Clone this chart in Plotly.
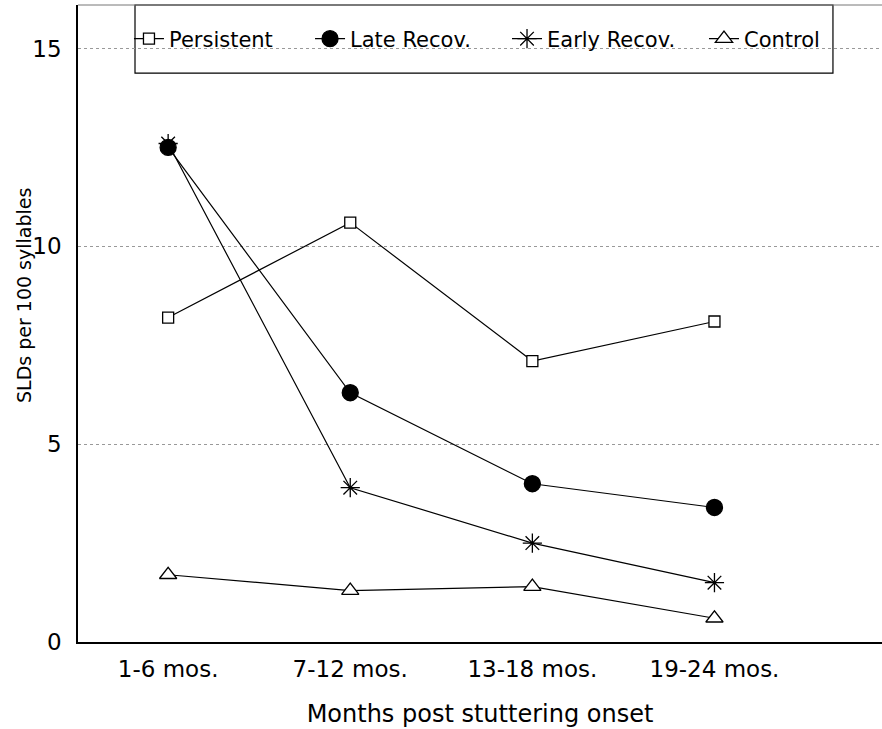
import plotly.graph_objects as go

categories = ["1-6 mos.", "7-12 mos.", "13-18 mos.", "19-24 mos."]
persistent = [8.2, 10.6, 7.1, 8.1]
late_recov = [12.5, 6.3, 4.0, 3.4]
early_recov = [12.6, 3.9, 2.5, 1.5]
control = [1.7, 1.3, 1.4, 0.6]

FONT = "DejaVu Sans, Liberation Sans, Arial, sans-serif"

fig = go.Figure()

def add(name, y, symbol, size, fill, legend):
    fig.add_trace(go.Scatter(
        x=categories, y=y, name=name, mode="lines+markers",
        line=dict(color="black", width=1.2),
        marker=dict(symbol=symbol, size=size, color=fill,
                    line=dict(color="black", width=1.3)),
        legend=legend,
    ))

add("Persistent", persistent, "square", 11, "white", "legend")
add("Late Recov.", late_recov, "circle", 16, "black", "legend2")
add("Early Recov.", early_recov, "asterisk-open", 16, "black", "legend3")
add("Control", control, "triangle-up", 15, "white", "legend4")

def leg(x):
    return dict(
        orientation="h", x=x, y=0.9466, xanchor="left", yanchor="middle",
        borderwidth=0, bgcolor="rgba(0,0,0,0)",
        font=dict(family=FONT, size=21, color="black"),
        itemwidth=30,
    )

fig.update_layout(
    width=882, height=729,
    margin=dict(l=78, r=0, t=5, b=87),
    paper_bgcolor="white", plot_bgcolor="white",
    font=dict(family=FONT, size=23, color="black"),
    showlegend=True,
    legend=leg(0.0634),
    legend2=leg(0.2886),
    legend3=leg(0.5336),
    legend4=leg(0.7786),
    xaxis=dict(
        type="category", range=[-0.495, 3.92],
        showgrid=False, zeroline=False,
        showline=True, linecolor="black", linewidth=1.5,
        ticks="", ticklabelstandoff=6,
        tickfont=dict(size=23),
        title=dict(text="Months post stuttering onset", standoff=24,
                   font=dict(size=24)),
    ),
    yaxis=dict(
        range=[0, 16.1], tickvals=[0, 5, 10, 15],
        showgrid=True, gridcolor="#999999", griddash="dot", gridwidth=1,
        zeroline=False,
        showline=True, linecolor="black", linewidth=1.5,
        ticks="", ticklabelstandoff=10,
        tickfont=dict(size=23),
    ),
    shapes=[
        dict(type="line", xref="paper", yref="paper", x0=0, x1=1,
             y0=1, y1=1, line=dict(color="#777777", width=1)),
        dict(type="rect", xref="paper", yref="paper", x0=0.0709, x1=0.939,
             y0=0.893, y1=1, line=dict(color="black", width=1.2),
             fillcolor="white", layer="below"),
    ],
    annotations=[
        dict(text="SLDs per 100 syllables", xref="paper", yref="paper",
             x=-0.0672, y=0.5447, xanchor="center", yanchor="middle",
             textangle=-90, showarrow=False,
             font=dict(family=FONT, size=19, color="black")),
    ],
)

fig.write_html("out.html", config={"displayModeBar": False},
               post_script="document.body.style.margin='0px';")
